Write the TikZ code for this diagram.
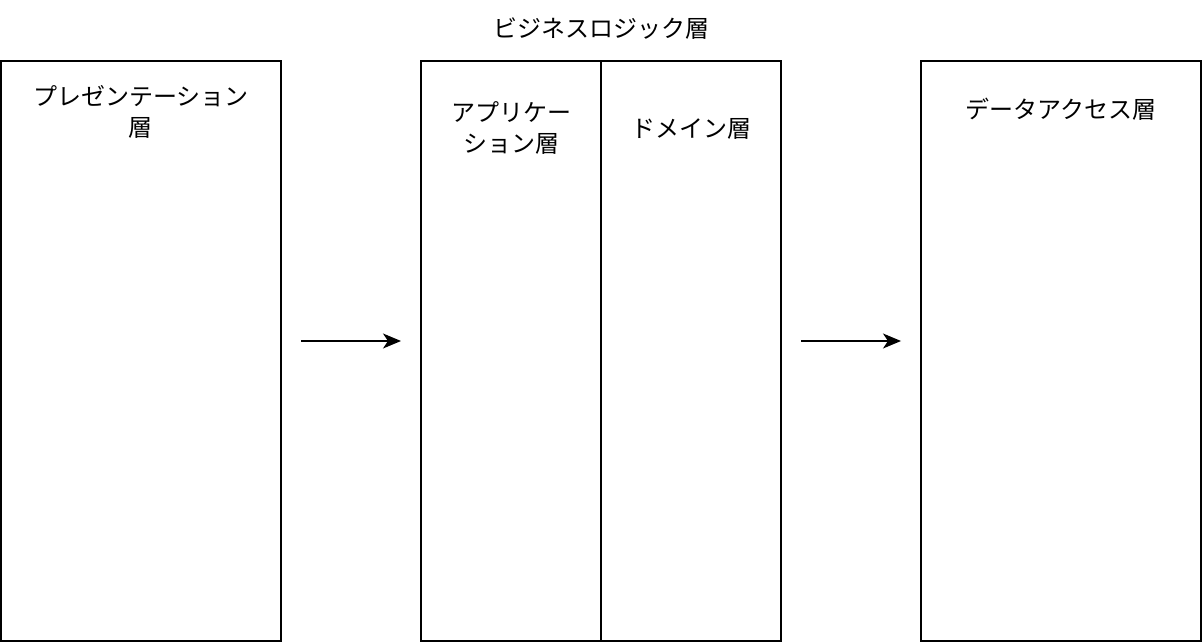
\documentclass[tikz,border=0pt]{standalone}
\usepackage{fontspec}
\setmainfont{Noto Sans CJK JP}
\usetikzlibrary{arrows.meta}
\begin{document}
\begin{tikzpicture}[x=1pt,y=-1pt,
  layerbox/.style={draw=black,line width=1.5pt,fill=white},
  lbl/.style={font=\fontsize{24}{31}\selectfont,align=center,inner sep=0pt},
  flow/.style={line width=1.5pt,-{Stealth[length=18pt,width=15pt,inset=5pt]}}]
\useasboundingbox (0,0) rectangle (1202,644);
\draw[layerbox] (1,61) rectangle (281,641);
\draw[layerbox] (421,61) rectangle (601,641);
\draw[layerbox] (601,61) rectangle (781,641);
\draw[layerbox] (921,61) rectangle (1201,641);
\node[lbl] (pres) at (141,112) {プレゼンテーション\\層};
\node[lbl] (biz) at (601,29) {ビジネスロジック層};
\node[lbl] (app) at (511,128) {アプリケー\\ション層};
\node[lbl] (dom) at (691,129) {ドメイン層};
\node[lbl] (dat) at (1061,109) {データアクセス層};
\coordinate (a1s) at (301,341);
\coordinate (a1e) at (401,341);
\coordinate (a2s) at (801,341);
\coordinate (a2e) at (901,341);
\draw[flow] (a1s) -- (a1e);
\draw[flow] (a2s) -- (a2e);
\end{tikzpicture}
\end{document}
